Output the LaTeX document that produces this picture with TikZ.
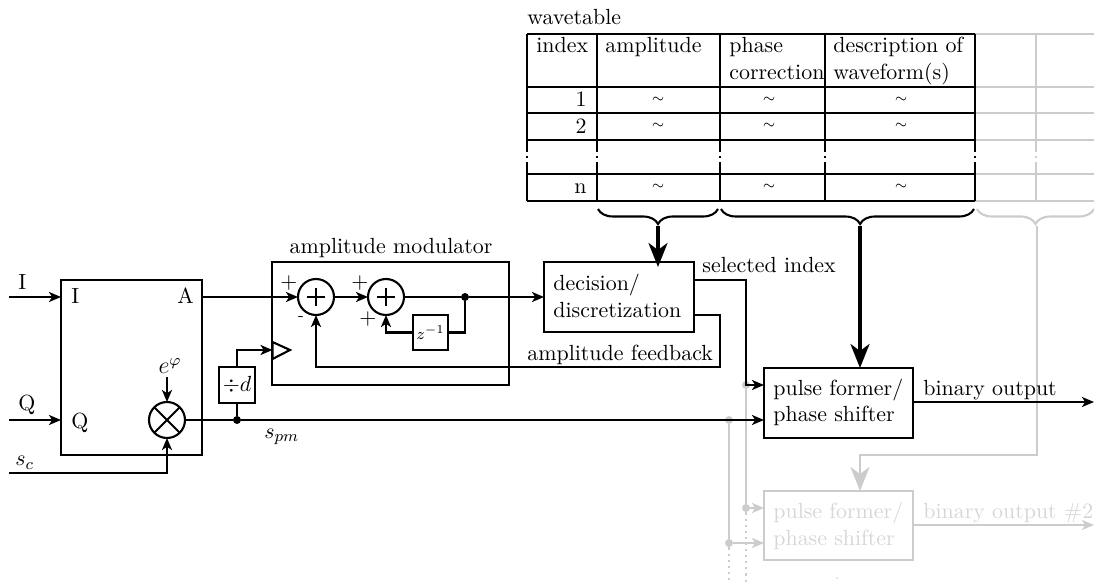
\documentclass[tikz,border=0pt]{standalone}
\usetikzlibrary{arrows.meta,decorations.pathreplacing}
\definecolor{ghost}{gray}{0.80}
\definecolor{ghosttext}{gray}{0.84}
\tikzset{
  wire/.style={line width=1.05pt,-{Stealth[length=6pt,width=5pt,inset=1.6pt]}},
  plain/.style={line width=1.05pt},
  bus/.style={line width=1.7pt,-{Stealth[length=12pt,width=9.5pt,inset=3.5pt]}},
  ghostbus/.style={line width=1.4pt,-{Stealth[length=12pt,width=9.5pt,inset=3.5pt]}},
  bx/.style 2 args={draw,line width=1.05pt,inner sep=0pt,outer sep=0pt,minimum width=#1*0.5pt,minimum height=#2*0.5pt},
  txt/.style={inner sep=0pt,anchor=base west},
  summer/.style={draw,circle,line width=1.05pt,inner sep=0pt,outer sep=0pt,minimum size=18pt,
    path picture={\draw[line width=1.05pt] (-4.6pt,0)--(4.6pt,0) (0,-4.6pt)--(0,4.6pt);}},
  mixer/.style={draw,circle,line width=1.05pt,inner sep=0pt,outer sep=0pt,minimum size=18pt,
    path picture={\draw[line width=1.05pt] (-7pt,-7pt)--(7pt,7pt) (-7pt,7pt)--(7pt,-7pt);}},
  junction/.style={circle,fill,inner sep=0pt,minimum size=4pt},
  brc/.style={line width=1.05pt,decorate,decoration={brace,amplitude=7.5pt,aspect=#1}},
  brc/.default=0.5,
  ghostly/.style={color=ghost,text=ghosttext}
}
\begin{document}
\begin{tikzpicture}[x=0.5pt,y=-0.5pt,font=\fontsize{10.95}{13}\selectfont]
\useasboundingbox (0,0) rectangle (1094,583);
% ---- ghost (second channel) ----
\begin{scope}[ghostly]
  \foreach \yy in {34,87,113,140,174,201}
    \draw[plain] (975,\yy) -- (1094,\yy);
  \draw[plain] (1036,34) -- (1036,150) (1036,164) -- (1036,201);
  \draw[plain,dotted] (1036,150) -- (1036,164);
  \draw[brc=0.5] (1094,209) -- (977,209);
  \coordinate (btip) at (1037,226);
  \node[bx={149}{69},anchor=north west] (pf2) at (764,491) {};
  \node[txt] (pf2a) at (773,518) {pulse former/};
  \node[txt] (pf2b) at (773,545) {phase shifter};
  \node[txt] (bo2) at (923,518) {binary output \#2};
  \coordinate (bo2e) at (1094,525);
  \coordinate (busc) at (860,455);
  \coordinate (busd) at (860,491);
  \draw[ghostbus] (btip) |- (busc) -- (busd);
  \draw[wire] (pf2.east |- bo2e) -- (bo2e);
  \node[junction] (g1) at (746,385) {};
  \node[junction] (g2) at (746,508) {};
  \node[junction] (g3) at (729,420) {};
  \node[junction] (g4) at (729,543) {};
  \draw[plain] (g1) -- (g2) (g3) -- (g4);
  \draw[wire] (g2) -- (g2 -| pf2.west);
  \draw[wire] (g4) -- (g4 -| pf2.west);
  \coordinate (d1) at (746,583);
  \coordinate (d2) at (729,583);
  \draw[plain,dotted] (g2) -- (d1) (g4) -- (d2);
  \node[circle,fill=ghosttext,inner sep=0pt,minimum size=1pt] (spec) at (837,578) {};
\end{scope}
% ---- wavetable ----
\node[txt] (wt) at (527,25) {wavetable};
\foreach \yy in {34,87,113,140,174,201}
  \draw[plain] (527,\yy) -- (975,\yy);
\foreach \xx in {527,597,720,825,975}{
  \draw[plain] (\xx,34) -- (\xx,150) (\xx,164) -- (\xx,201);
  \draw[plain,dotted] (\xx,150) -- (\xx,164);
}
\node[txt] (h1) at (536,53) {index};
\node[txt] (h2) at (605,53) {amplitude};
\node[txt] (h3) at (729,53) {phase};
\node[txt] (h3b) at (729,80) {correction};
\node[txt] (h4) at (833,53) {description of};
\node[txt] (h4b) at (833,80) {waveform(s)};
\node[inner sep=0pt,anchor=base east] (r1) at (587,107) {1};
\node[inner sep=0pt,anchor=base east] (r2) at (587,134) {2};
\node[inner sep=0pt,anchor=base east] (rn) at (587,194) {n};
\foreach \yy/\nm in {100/a,126/b,187/c}{
  \node[inner sep=0pt,font=\scriptsize] (t1\nm) at (658,\yy) {$\sim$};
  \node[inner sep=0pt,font=\scriptsize] (t2\nm) at (769,\yy) {$\sim$};
  \node[inner sep=0pt,font=\scriptsize] (t3\nm) at (901,\yy) {$\sim$};
}
\draw[brc=0.5] (718,209) -- (598,209);
\draw[brc=0.45] (974,209) -- (721,209);
\coordinate (b1) at (658,226);
\coordinate (b2) at (860,226);
% ---- main box ----
\node[bx={141}{175},anchor=north west] (iq) at (61,280) {};
\node[txt] at (71,303) (iqI) {I};
\node[txt] at (71,428) (iqQ) {Q};
\node[txt] at (177,303) (iqA) {A};
\node[mixer] (mix) at (167,420) {};
\node[inner sep=0pt] (phi) at (170,366) {\large $e^{\varphi}$};
\coordinate (inI) at (9,297);
\coordinate (inQ) at (9,420);
\coordinate (inS) at (9,473);
\coordinate (phis) at (167,377);
\node[txt] (lI) at (18,290) {I};
\node[txt] (lQ) at (18,410) {Q};
\node[txt] (lS) at (15,466) {$s_c$};
\draw[wire] (inI) -- (inI -| iq.west);
\draw[wire] (inQ) -- (inQ -| iq.west);
\draw[wire] (inS) -| (mix.south);
\draw[wire] (phis) -- (mix.north);
% ---- amplitude modulator ----
\node[bx={237}{123},anchor=north west] (am) at (272,262) {};
\node[inner sep=0pt,anchor=base] (aml) at (391,254) {amplitude modulator};
\node[summer] (s1) at (316,297) {};
\node[summer] (s2) at (386,297) {};
\node[junction] (j1) at (465,297) {};
\node[bx={35}{35},anchor=north west] (zz) at (413,315) {\footnotesize $z^{-1}$};
\node[inner sep=0pt] (p1) at (289,283) {$+$};
\node[inner sep=0pt] (p2) at (360,283) {$+$};
\node[inner sep=0pt] (p3) at (368,319) {$+$};
\node[inner sep=0pt,font=\footnotesize] (m1) at (301,319) {-};
\node[bx={150}{70},anchor=north west] (dec) at (544,262) {};
\node[txt] (da) at (553,291) {decision/};
\node[txt] (db) at (553,317) {discretization};
\node[txt] (si) at (702,272) {selected index};
\node[txt] (af) at (527,360) {amplitude feedback};
\node[bx={149}{70},anchor=north west] (pf) at (764,368) {};
\node[txt] (pa) at (773,395) {pulse former/};
\node[txt] (pb) at (773,422) {phase shifter};
\node[txt] (bo) at (923,395) {binary output};
\coordinate (boe) at (1094,402);
% amplifier triangle
\coordinate (tri) at (272.5,350);
\draw[plain,line join=miter] (272.5,342) -- (290,350) -- (272.5,359) -- cycle;
\node[bx={36}{36},anchor=north west] (div) at (219,367) {\makebox[0pt]{$\div d$}};
\node[junction] (j2) at (237,420) {};
\node[inner sep=0pt,txt] (spm) at (264,438) {$s_{pm}$};
% connectors
\coordinate (fbs) at (694,315);
\coordinate (fbc) at (720,367);
\coordinate (sels) at (694,280);
\coordinate (selc) at (746,385);
\draw[wire] (iq.east |- s1) -- (s1);
\draw[wire] (s1) -- (s2);
\draw[plain] (s2) -- (j1);
\draw[wire] (j1) -- (j1 -| dec.west);
\draw[plain] (j1) |- (zz.east);
\draw[wire] (zz.west) -| (s2.south);
\draw[wire] (fbs) -| (fbc) -| (s1.south);
\draw[plain] (mix.east) -- (j2);
\draw[wire] (j2) -- (j2 -| pf.west);
\draw[plain] (j2) -- (div.south);
\draw[wire] (div.north) |- (tri);
\draw[wire] (sels) -| (selc) -- (selc -| pf.west);
\draw[wire] (pf.east |- boe) -- (boe);
\draw[bus] (b1) -- (658,267);
\draw[bus] (b2) -- (860,368);
\end{tikzpicture}
\end{document}
